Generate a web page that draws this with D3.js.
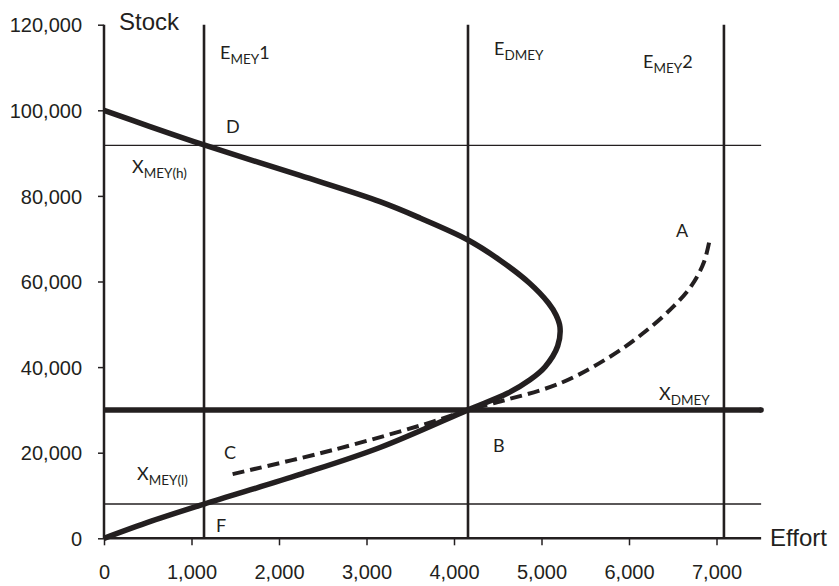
<!DOCTYPE html>
<html>
<head>
<meta charset="utf-8">
<script src="https://cdn.jsdelivr.net/npm/d3@7"></script>
<style>
  html, body { margin: 0; padding: 0; background: #fff; }
  svg { display: block; }
  .tick-label { font-family: "Liberation Sans", Arial, sans-serif; font-size: 20px; fill: #231f20; }
  .axis-title { font-family: "Liberation Sans", Arial, sans-serif; font-size: 24px; fill: #231f20; }
  .mark-label { font-family: Lato, "Open Sans", sans-serif; font-size: 18px; fill: #231f20; }
</style>
</head>
<body>
<svg id="chart" width="839" height="586"></svg>
<script>
// Axis ticks
const effortTicks = [0, 1000, 2000, 3000, 4000, 5000, 6000, 7000];
const stockTicks = [0, 20000, 40000, 60000, 80000, 100000, 120000];

// Equilibrium stock/effort curve (solid), ordered by stock
const curveStock  = [0, 4000, 8000, 14910, 21220, 30000, 33880, 37040, 40100, 44930, 49370, 52180, 54980, 59650, 65030, 69700, 74840, 78650, 84770, 91900, 96200, 100000];
const curveEffort = [0, 540, 1143, 2240, 3154, 4160, 4611, 4869, 5042, 5185, 5211, 5166, 5079, 4861, 4521, 4160, 3611, 3154, 2240, 1143, 526, 0];

// Dynamic MEY path (dashed), from C through B to A
const dashEffort = [1470, 2617, 3760, 4160, 4446, 5211, 5783, 6160, 6503, 6720, 6857, 6926];
const dashStock  = [15000, 20630, 27250, 30000, 31540, 36200, 42430, 47900, 54050, 59190, 64560, 70170];

// Reference levels
const effortLevels = [1143, 4160, 7085];      // E_MEY1, E_DMEY, E_MEY2
const stockThin = [91800, 8000];              // X_MEY(h), X_MEY(l)
const stockDMEY = 30000;                      // X_DMEY
const effortAxisEnd = 7510;

const svg = d3.select("#chart");
const ink = "#231f20";

const x = d3.scaleLinear().domain([0, 7000]).range([104, 716.5]);
const y = d3.scaleLinear().domain([0, 120000]).range([538.3, 24.7]);

const fmt = d3.format(",");

// Y axis
const yAxis = d3.axisLeft(y).tickValues(stockTicks).tickSize(6).tickPadding(16).tickFormat(fmt);
const gy = svg.append("g").attr("transform", `translate(${x(0)},0)`).call(yAxis);
gy.select(".domain").remove();
gy.selectAll(".tick line").attr("stroke", ink).attr("stroke-width", 1.5);
gy.selectAll(".tick text").attr("class", "tick-label").attr("fill", ink).attr("dy", "0.36em");

// X axis
const xAxis = d3.axisBottom(x).tickValues(effortTicks).tickSize(7).tickPadding(20).tickFormat(fmt);
const gx = svg.append("g").attr("transform", `translate(0,${y(0)})`).call(xAxis);
gx.select(".domain").remove();
gx.selectAll(".tick line").attr("stroke", ink).attr("stroke-width", 1.5);
gx.selectAll(".tick text").attr("class", "tick-label").attr("fill", ink).attr("dy", "0.71em");

// Thin horizontal stock levels
svg.selectAll("line.thin").data(stockThin).enter().append("line")
  .attr("class", "thin")
  .attr("x1", x(0)).attr("x2", x(effortAxisEnd))
  .attr("y1", d => y(d)).attr("y2", d => y(d))
  .attr("stroke", ink).attr("stroke-width", 1.4);

// Vertical effort levels
svg.selectAll("line.vert").data(effortLevels).enter().append("line")
  .attr("class", "vert")
  .attr("x1", d => x(d)).attr("x2", d => x(d))
  .attr("y1", y(120000)).attr("y2", y(0))
  .attr("stroke", ink).attr("stroke-width", 2.6);

// Thick X_DMEY level, rounded at its right end
svg.append("line")
  .attr("x1", x(0)).attr("x2", x(effortAxisEnd))
  .attr("y1", y(stockDMEY)).attr("y2", y(stockDMEY))
  .attr("stroke", ink).attr("stroke-width", 5.5);
svg.append("circle").attr("cx", x(effortAxisEnd)).attr("cy", y(stockDMEY)).attr("r", 2.75).attr("fill", ink);

// Axis lines
svg.append("line").attr("x1", x(0)).attr("x2", x(0)).attr("y1", y(120000)).attr("y2", y(0))
  .attr("stroke", ink).attr("stroke-width", 2.5);
svg.append("line").attr("x1", x(0)).attr("x2", x(effortAxisEnd)).attr("y1", y(0)).attr("y2", y(0))
  .attr("stroke", ink).attr("stroke-width", 2.5);

// Solid curve
const solidPts = curveStock.map((s, i) => ({ s, e: curveEffort[i] }));
svg.append("path")
  .datum(solidPts)
  .attr("d", d3.line().x(d => x(d.e)).y(d => y(d.s)).curve(d3.curveCatmullRom.alpha(0.5)))
  .attr("fill", "none").attr("stroke", ink).attr("stroke-width", 5.5);

// Dashed curve
const dashPts = dashEffort.map((e, i) => ({ e, s: dashStock[i] }));
svg.append("path")
  .datum(dashPts)
  .attr("d", d3.line().x(d => x(d.e)).y(d => y(d.s)).curve(d3.curveCatmullRom.alpha(0.5)))
  .attr("fill", "none").attr("stroke", ink).attr("stroke-width", 4)
  .attr("stroke-dasharray", "12,6");

// Axis titles
svg.append("text").attr("class", "axis-title").attr("x", 119).attr("y", 30).text("Stock");
svg.append("text").attr("class", "axis-title").attr("x", 770).attr("y", 546).text("Effort");

// Labels with subscripts
function subLabel(px, py, main, sub, tail) {
  const t = svg.append("text").attr("class", "mark-label").attr("x", px).attr("y", py);
  t.append("tspan").text(main);
  if (sub) t.append("tspan").attr("dy", 5).attr("font-size", 13.5).text(sub);
  if (tail) t.append("tspan").attr("dy", -5).text(tail);
  return t;
}
subLabel(220, 59, "E", "MEY", "1");
subLabel(494, 55, "E", "DMEY");
subLabel(643, 68, "E", "MEY", "2");
subLabel(132, 173, "X", "MEY(h)");
subLabel(137, 480, "X", "MEY(l)");
subLabel(659, 400, "X", "DMEY");
subLabel(226, 133, "D");
subLabel(224, 459, "C");
subLabel(216, 532, "F");
subLabel(493, 452, "B");
subLabel(676, 237, "A");
</script>
</body>
</html>
